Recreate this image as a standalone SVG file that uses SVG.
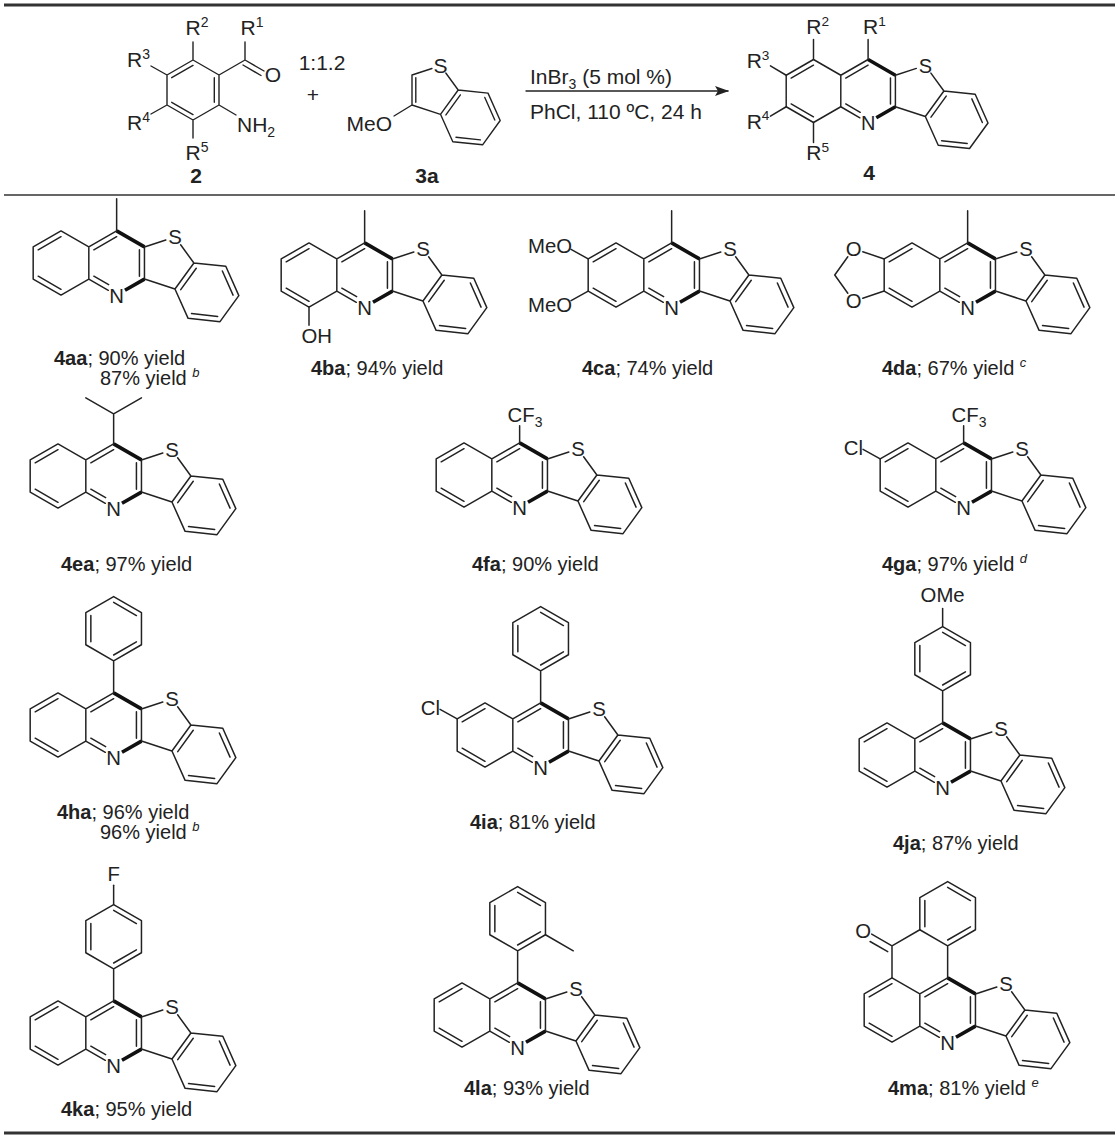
<svg xmlns="http://www.w3.org/2000/svg" xmlns:xlink="http://www.w3.org/1999/xlink" width="1119" height="1144" viewBox="0 0 1119 1144">
<style>
.b{fill:none;stroke:#222;stroke-width:1.4;stroke-linecap:round;stroke-linejoin:round}
.w{fill:none;stroke:#111;stroke-width:3.4;stroke-linecap:butt}
text{font-family:"Liberation Sans",Arial,sans-serif;fill:#222}
.a{font-size:19px;text-anchor:middle}
.h{font-size:21px}
.l{font-size:20px}
.k{font-weight:bold}
.sp{font-size:13px;font-style:italic}
</style>
<defs>
<marker id="arr" markerWidth="14" markerHeight="10" refX="13" refY="5" orient="auto" markerUnits="userSpaceOnUse"><path d="M0,0 L14,5 L0,10 L3,5 Z" fill="#222"/></marker>
<g id="core">
<path class="b" d="M0,-30 L26,-15 L26,15 L0,30 L-26,15 L-26,-15 Z M26,-15 L52,-30 M78,-15 L78,15 M26,15 L44.2,25.5 M78,-15 L97.95,-21.5 M111.8,-17 L124.2,0 L106.5,24.3 L78,15 M124.2,0 L154,3.1 L166.2,30.5 L148.6,54.8 L118.8,51.7 L106.5,24.3 M0,-24.6 L-21.3,-12.3 M-21.3,12.3 L0,24.6 M30.7,-12.3 L52,-24.6 M73.3,-12.3 L73.3,12.3 M30.7,12.3 L44.5,20.3 M111.9,24.9 L126.4,4.9 M150.8,7.5 L160.8,30 M146.4,49.9 L122,47.3"/>
<path class="w" d="M52,-30 L78,-15 M59.8,25.5 L78,15"/>
<text class="a" x="52" y="37">N</text>
<text class="a" x="106.5" y="-17.5">S</text>
</g>
<path id="ph" class="b" d="M52,-30 V-60 M52,-60 L78,-75 L78,-105 L52,-120 L26,-105 L26,-75 Z M30.7,-77.7 L30.7,-102.3 M52,-114.6 L73.3,-102.3 M73.3,-77.7 L52,-65.4"/>
</defs>

<g id="rules">
<line x1="4" y1="5" x2="1115" y2="5" stroke="#333" stroke-width="3"/>
<line x1="4" y1="195" x2="1115" y2="195" stroke="#333" stroke-width="1.5"/>
<line x1="4" y1="1133" x2="1115" y2="1133" stroke="#333" stroke-width="3"/>
</g>

<g id="sm2">
<path class="b" d="M193,60 L219,75 L219,105 L193,120 L167,105 L167,75 Z M171.7,77.7 L193,65.4 M214.3,77.7 L214.3,102.3 M171.7,102.3 L193,114.6 M193,60 V42 M219,75 L245,60 V42 M245,60 L264,71 M243,65 L261,75.5 M167,75 L151,66 M167,105 L151,114 M193,120 V138 M219,105 L236,115"/>
<text class="h" x="197" y="35" text-anchor="middle">R<tspan font-size="14" dy="-8">2</tspan></text>
<text class="h" x="252" y="35" text-anchor="middle">R<tspan font-size="14" dy="-8">1</tspan></text>
<text class="h" x="273" y="82" text-anchor="middle">O</text>
<text class="h" x="150" y="67" text-anchor="end">R<tspan font-size="14" dy="-8">3</tspan></text>
<text class="h" x="150" y="130" text-anchor="end">R<tspan font-size="14" dy="-8">4</tspan></text>
<text class="h" x="197" y="160" text-anchor="middle">R<tspan font-size="14" dy="-8">5</tspan></text>
<text class="h" x="237" y="132">NH<tspan font-size="14" dy="5">2</tspan></text>
<text class="h k" x="196" y="183" text-anchor="middle">2</text>
</g>

<text class="h" x="322" y="70" text-anchor="middle">1:1.2</text>
<text class="h" x="313" y="102" text-anchor="middle">+</text>

<g id="sm3a" transform="translate(334,90)">
<path class="b" d="M97.95,-21.5 L78,-15 L78,15 L106.5,24.3 L124.2,0 L111.8,-17 M124.2,0 L154,3.1 L166.2,30.5 L148.6,54.8 L118.8,51.7 L106.5,24.3 M81.8,-12.3 L81.8,12.3 M111.9,24.9 L126.4,4.9 M150.8,7.5 L160.8,30 M146.4,49.9 L122,47.3 M78,15 L60,26"/>
<text class="h" x="106.5" y="-17" text-anchor="middle">S</text>
<text class="h" x="58" y="41" text-anchor="end">MeO</text>
<text class="h k" x="93" y="93" text-anchor="middle">3a</text>
</g>

<g id="connectors">
<line x1="526" y1="91" x2="728" y2="91" class="b" marker-end="url(#arr)"/>
<text class="h" x="530" y="84">InBr<tspan font-size="14" dy="5">3</tspan><tspan dy="-5"> (5 mol %)</tspan></text>
<text class="h" x="530" y="119">PhCl, 110 ºC, 24 h</text>
</g>

<g id="p4" transform="translate(813.5,91) scale(1.05)">
<use href="#core"/>
<path class="b" d="M0,-30 V-49 M52,-30 V-49 M-26,-15 L-41,-24 M-26,15 L-41,24 M0,30 V49"/>
<text class="l" x="4" y="-54" text-anchor="middle">R<tspan font-size="13" dy="-8">2</tspan></text>
<text class="l" x="58" y="-54" text-anchor="middle">R<tspan font-size="13" dy="-8">1</tspan></text>
<text class="l" x="-42" y="-22" text-anchor="end">R<tspan font-size="13" dy="-8">3</tspan></text>
<text class="l" x="-42" y="36" text-anchor="end">R<tspan font-size="13" dy="-8">4</tspan></text>
<text class="l" x="4" y="66" text-anchor="middle">R<tspan font-size="13" dy="-8">5</tspan></text>
<text class="l k" x="53" y="85" text-anchor="middle">4</text>
</g>

<g id="c4aa" transform="translate(61,263) scale(1.07)"><use href="#core"/><path class="b" d="M52,-30 V-60"/></g>
<g id="c4ba" transform="translate(309,275) scale(1.07)"><use href="#core"/><path class="b" d="M52,-30 V-60 M0,30 V47"/><text class="a" x="-7" y="64" style="text-anchor:start">OH</text></g>
<g id="c4ca" transform="translate(616,275) scale(1.07)"><use href="#core"/><path class="b" d="M52,-30 V-60 M-26,-15 L-42,-24 M-26,15 L-42,24"/><text class="a" x="-41" y="-21" style="text-anchor:end">MeO</text><text class="a" x="-41" y="35" style="text-anchor:end">MeO</text></g>
<g id="c4da" transform="translate(912,275) scale(1.07)"><use href="#core"/><path class="b" d="M52,-30 V-60 M-26,-15 L-46,-21.8 M-60,-17 L-72.2,0 L-60,17 M-46,21.8 L-26,15"/><text class="a" x="-54.5" y="-17.5">O</text><text class="a" x="-54.5" y="31">O</text></g>

<g id="c4ea" transform="translate(58,476) scale(1.07)"><use href="#core"/><path class="b" d="M52,-30 V-58 L26,-73 M52,-58 L78,-73"/></g>
<g id="c4fa" transform="translate(464,475) scale(1.07)"><use href="#core"/><path class="b" d="M52,-30 V-46"/><text class="a" x="57" y="-50">CF<tspan font-size="13" dy="5">3</tspan></text></g>
<g id="c4ga" transform="translate(908,475) scale(1.07)"><use href="#core"/><path class="b" d="M52,-30 V-46 M-26,-15 L-42,-24"/><text class="a" x="57" y="-50">CF<tspan font-size="13" dy="5">3</tspan></text><text class="a" x="-42" y="-19" style="text-anchor:end">Cl</text></g>

<g id="c4ha" transform="translate(58,725) scale(1.07)"><use href="#core"/><use href="#ph"/></g>
<g id="c4ia" transform="translate(485,735) scale(1.07)"><use href="#core"/><use href="#ph"/><path class="b" d="M-26,-15 L-42,-24"/><text class="a" x="-42" y="-19" style="text-anchor:end">Cl</text></g>
<g id="c4ja" transform="translate(887,755) scale(1.07)"><use href="#core"/><use href="#ph"/><path class="b" d="M52,-120 V-137"/><text class="a" x="52" y="-143">OMe</text></g>

<g id="c4ka" transform="translate(58,1033) scale(1.07)"><use href="#core"/><use href="#ph"/><path class="b" d="M52,-120 V-138"/><text class="a" x="52" y="-142">F</text></g>
<g id="c4la" transform="translate(462,1015) scale(1.07)"><use href="#core"/><use href="#ph"/><path class="b" d="M78,-75 L104,-60"/></g>
<g id="c4ma" transform="translate(892,1010) scale(1.07)"><use href="#core"/><use href="#ph"/><path class="b" d="M26,-75 L0,-60 L0,-30 M0,-60 L-19,-71 M-4,-54.5 L-20.5,-64"/><text class="a" x="-27" y="-67">O</text></g>

<g id="labels">
<text class="l" x="54" y="365"><tspan class="k">4aa</tspan>; 90% yield</text>
<text class="l" x="100" y="385">87% yield <tspan class="sp" dy="-8">b</tspan></text>
<text class="l" x="311" y="375"><tspan class="k">4ba</tspan>; 94% yield</text>
<text class="l" x="582" y="375"><tspan class="k">4ca</tspan>; 74% yield</text>
<text class="l" x="882" y="375"><tspan class="k">4da</tspan>; 67% yield <tspan class="sp" dy="-8">c</tspan></text>
<text class="l" x="61" y="571"><tspan class="k">4ea</tspan>; 97% yield</text>
<text class="l" x="472" y="571"><tspan class="k">4fa</tspan>; 90% yield</text>
<text class="l" x="882" y="571"><tspan class="k">4ga</tspan>; 97% yield <tspan class="sp" dy="-8">d</tspan></text>
<text class="l" x="57" y="819"><tspan class="k">4ha</tspan>; 96% yield</text>
<text class="l" x="100" y="839">96% yield <tspan class="sp" dy="-8">b</tspan></text>
<text class="l" x="470" y="829"><tspan class="k">4ia</tspan>; 81% yield</text>
<text class="l" x="893" y="850"><tspan class="k">4ja</tspan>; 87% yield</text>
<text class="l" x="61" y="1116"><tspan class="k">4ka</tspan>; 95% yield</text>
<text class="l" x="464" y="1095"><tspan class="k">4la</tspan>; 93% yield</text>
<text class="l" x="888" y="1095"><tspan class="k">4ma</tspan>; 81% yield <tspan class="sp" dy="-8">e</tspan></text>
</g>
</svg>
